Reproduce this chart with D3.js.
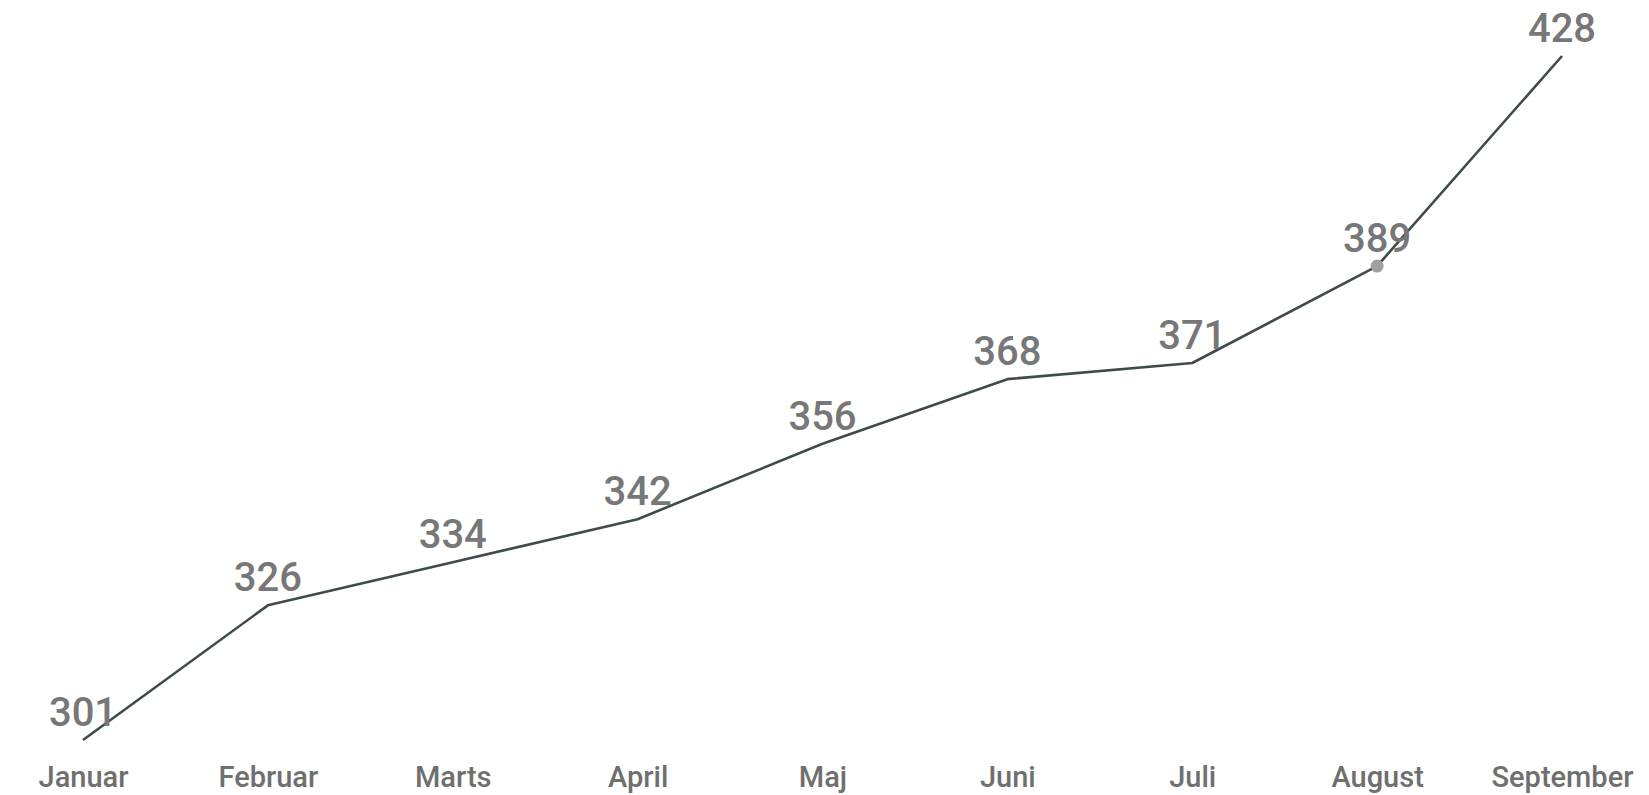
<!DOCTYPE html>
<html>
<head>
<meta charset="utf-8">
<script src="https://cdn.jsdelivr.net/npm/d3@7"></script>
<style>
  body { margin: 0; background: #fff; }
</style>
</head>
<body>
<div id="chart"></div>
<script>

// data
var months      = ["Januar", "Februar", "Marts", "April", "Maj", "Juni", "Juli", "August", "September"];
var values      = [301, 326, 334, 342, 356, 368, 371, 389, 428];
var highlight   = "August";

// --------------------------------------------------------

var chart_width     = 1649;
var chart_height    = 795;

var svg = d3.select("#chart")
    .append("svg")
    .attr("width", chart_width)
    .attr("height", chart_height);

// --------------------------------------------------------

// scales
const x_scale = d3.scalePoint()
    .domain(months)
    .range([83, 1562]);

const y_scale = d3.scaleLinear()
    .domain([d3.min(values), d3.max(values)])
    .range([740, 56]);

var points = months.map((m, i) => ({ month: m, value: values[i] }));

// --------------------------------------------------------

// line
var line = d3.line()
    .x((d) => x_scale(d.month))
    .y((d) => y_scale(d.value));

svg.append("path")
    .datum(points)
    .attr("d", line)
    .attr("fill", "none")
    .attr("stroke", "#3f4b4b")
    .attr("stroke-width", 2.6)
    .attr("stroke-linejoin", "round");

// highlighted point
svg.selectAll("circle")
    .data(points.filter((d) => d.month === highlight))
    .enter()
    .append("circle")
    .attr("cx", (d) => x_scale(d.month))
    .attr("cy", (d) => y_scale(d.value))
    .attr("r", 6.5)
    .attr("fill", "#a0a0a0");

// value labels
svg.selectAll("text.value")
    .data(points)
    .enter()
    .append("text")
    .attr("class", "value")
    .text((d) => d.value)
    .attr("x", (d) => x_scale(d.month))
    .attr("y", (d) => y_scale(d.value) - 14)
    .attr("text-anchor", "middle")
    .attr("font-family", "Roboto, sans-serif")
    .attr("font-weight", 500)
    .attr("font-size", 40)
    .attr("fill", "#777777");

// --------------------------------------------------------

// x axis (labels only)
var x_axis = d3.axisBottom(x_scale)
    .tickSize(0)
    .tickPadding(0);

var gx = svg.append("g")
    .attr("transform", "translate(0, 787)")
    .call(x_axis);

gx.select(".domain").remove();
gx.selectAll("text")
    .attr("dy", 0)
    .attr("font-family", "Roboto, sans-serif")
    .attr("font-weight", 500)
    .attr("font-size", 29)
    .attr("fill", "#6f6f6f");

</script>
</body>
</html>
